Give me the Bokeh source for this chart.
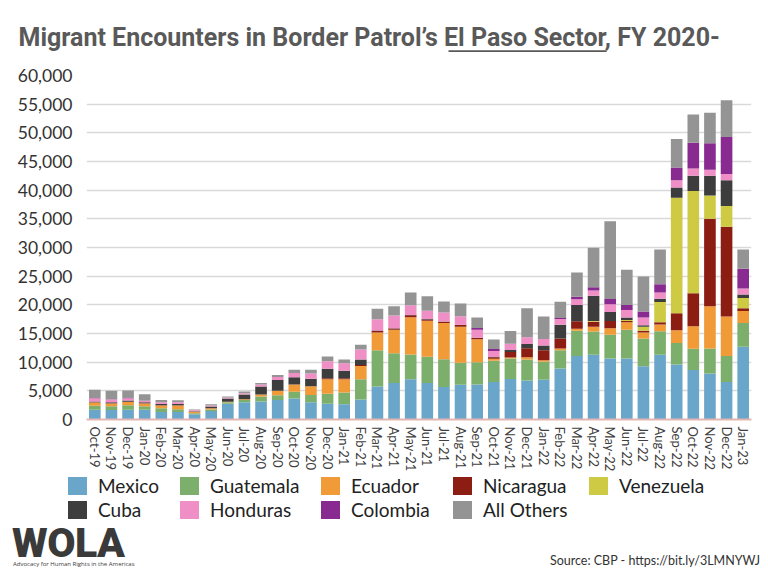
import math
from bokeh.plotting import figure
from bokeh.models import (ColumnDataSource, FactorRange, Range1d, SingleIntervalTicker,
                          NumeralTickFormatter, Label, Div)
from bokeh.layouts import column
from bokeh.embed import file_html
from bokeh.resources import INLINE

months = ["Oct-19", "Nov-19", "Dec-19", "Jan-20", "Feb-20", "Mar-20", "Apr-20", "May-20",
          "Jun-20", "Jul-20", "Aug-20", "Sep-20", "Oct-20", "Nov-20", "Dec-20", "Jan-21",
          "Feb-21", "Mar-21", "Apr-21", "May-21", "Jun-21", "Jul-21", "Aug-21", "Sep-21",
          "Oct-21", "Nov-21", "Dec-21", "Jan-22", "Feb-22", "Mar-22", "Apr-22", "May-22",
          "Jun-22", "Jul-22", "Aug-22", "Sep-22", "Oct-22", "Nov-22", "Dec-22", "Jan-23"]

mexico = [1700, 1650, 1700, 1700, 1300, 1300, 900, 1500, 2750, 3000, 3160, 3390, 3680, 2990,
          2760, 2645, 3510, 5750, 6380, 7015, 6360, 5665, 6070, 6125, 6530, 7050, 6820, 6935,
          8900, 11080, 11310, 10620, 10620, 9290, 11310, 9580, 8655, 8020, 6520, 12690]
guatemala = [700, 650, 800, 600, 650, 500, 200, 250, 250, 400, 870, 860, 1150, 1265, 1725, 2070,
             3510, 6325, 5175, 4310, 4570, 4855, 3815, 3870, 3700, 3585, 3640, 3120, 3180, 4385,
             4040, 4155, 5020, 4850, 4100, 3750, 3690, 4385, 4560, 4155]
ecuador = [550, 500, 550, 500, 500, 650, 250, 200, 100, 150, 340, 750, 1265, 1550, 2530, 2300,
           2300, 3100, 4080, 6500, 6300, 6300, 6300, 3990, 345, 170, 400, 290, 290, 350, 810,
           1155, 1330, 1040, 1155, 2250, 3920, 7330, 6870, 2080]
nicaragua = [50, 50, 50, 50, 50, 50, 0, 0, 0, 0, 0, 0, 0, 0, 170, 170, 170, 250, 230, 345, 230,
             230, 290, 230, 290, 980, 1560, 1735, 1770, 1330, 870, 1270, 230, 290, 400, 2940,
             5770, 15290, 15690, 460]
venezuela = [0, 0, 0, 0, 0, 0, 0, 0, 0, 0, 0, 0, 0, 0, 0, 0, 0, 0, 0, 0, 0, 0, 0, 0, 0, 0, 0,
             0, 0, 0, 170, 0, 170, 690, 3520, 20140, 17830, 4040, 3580, 1790]
cuba = [150, 150, 200, 150, 200, 200, 100, 300, 550, 800, 1380, 1900, 1265, 1320, 1670, 1320,
        980, 100, 50, 50, 50, 50, 50, 50, 50, 345, 750, 810, 2400, 2830, 4385, 1560, 400, 290,
        580, 1790, 2650, 3460, 4500, 635]
honduras = [550, 500, 400, 250, 300, 300, 150, 200, 200, 250, 350, 500, 750, 920, 1320, 1320,
            1725, 1955, 2240, 1725, 1445, 1560, 1500, 1390, 1040, 1100, 1155, 1155, 980, 980,
            920, 1330, 1330, 1330, 1100, 1270, 1270, 1040, 1100, 1040]
colombia = [50, 50, 50, 0, 0, 0, 0, 0, 0, 0, 0, 0, 0, 0, 0, 0, 0, 0, 0, 0, 0, 0, 0, 290, 345,
            0, 0, 0, 170, 460, 580, 920, 865, 1040, 1440, 2250, 4500, 4615, 6460, 3460]
all_others = [1450, 1450, 1300, 1150, 400, 350, 150, 200, 150, 300, 280, 350, 575, 630, 800,
              630, 860, 1840, 1610, 2185, 2540, 1910, 2200, 1850, 1675, 2200, 5085, 3930, 2830,
              4210, 6870, 13560, 6175, 6115, 6060, 4960, 4900, 5310, 6405, 3350]

series_names = ["Mexico", "Guatemala", "Ecuador", "Nicaragua", "Venezuela", "Cuba",
                "Honduras", "Colombia", "All Others"]
series_values = [mexico, guatemala, ecuador, nicaragua, venezuela, cuba, honduras, colombia,
                 all_others]
colors = ["#6aa6c9", "#7caf6b", "#f19b38", "#8c1d12", "#cfca43", "#3d3d3d", "#f08fc5",
          "#882a8f", "#949494"]

title_text = "Migrant Encounters in Border Patrol\u2019s El Paso Sector, FY 2020-"
logo_text = "WOLA"
tagline_text = "Advocacy for Human Rights in the Americas"
source_text = "Source: CBP - https://bit.ly/3LMNYWJ"

FONT = "Lato"
W = 768
PH = 474                             # chart height; the rest is the legend/footer block
FL, FR, FT, FB = 86, 751, 75, 421   # frame edges (page pixels)
YMAX = 60000


def dx(px):
    return (px - FL) / (FR - FL) * len(months)


def dy(py):
    return (FB - py) / (FB - FT) * YMAX


data = dict(month=months)
for n, v in zip(series_names, series_values):
    data[n] = v
source = ColumnDataSource(data)

p = figure(width=W, height=PH, x_range=FactorRange(factors=months, range_padding=0),
           y_range=Range1d(0, YMAX), toolbar_location=None, output_backend="svg",
           min_border_left=FL, min_border_right=W - FR, min_border_top=FT,
           min_border_bottom=PH - FB, title=None)
renderers = p.vbar_stack(series_names, x="month", width=0.7, source=source,
                         fill_color=colors, line_color=None)

p.outline_line_color = None
p.xgrid.grid_line_color = None
p.ygrid.grid_line_color = "#d9d9d9"
p.ygrid.grid_line_width = 1.5
p.yaxis.ticker = SingleIntervalTicker(interval=5000)
p.yaxis.formatter = NumeralTickFormatter(format="0,0")
p.yaxis.axis_line_color = None
p.yaxis.major_tick_line_color = None
p.yaxis.minor_tick_line_color = None
p.yaxis.major_tick_out = 0
p.yaxis.minor_tick_out = 0
p.yaxis.major_label_text_font = FONT
p.yaxis.major_label_text_font_size = "17.5px"
p.yaxis.major_label_text_color = "#333333"
p.yaxis.major_label_standoff = 14
p.xaxis.axis_line_color = "#e3b5b2"
p.xaxis.axis_line_width = 2
p.xaxis.major_tick_line_color = None
p.xaxis.major_tick_out = 0
p.xaxis.major_label_orientation = -math.pi / 2
p.xaxis.major_label_text_font = FONT
p.xaxis.major_label_text_font_size = "13px"
p.xaxis.major_label_text_color = "#404040"
p.xaxis.major_label_standoff = 7

p.add_layout(Label(x=dx(18), y=dy(37), text=title_text, text_font="Roboto",
                   text_font_style="bold", text_font_size="25px", text_color="#595959",
                   text_baseline="alphabetic"), "above")
# underline under "El Paso Sector": background box behind blank text
ul_w = 158
p.add_layout(Label(x=dx(448), y=dy(50.5), text="\u00a0" * int(ul_w / (0.2476 * 1.5)),
                   text_font="Roboto", text_font_size="1.5px", text_baseline="middle",
                   background_fill_color="#595959", background_fill_alpha=1), "above")

# legend + footer block (HTML)
col_x = [68, 180, 321, 453, 589]
row_y = [3, 27]
parts = []
for i, (name, c) in enumerate(zip(series_names, colors)):
    r, k = divmod(i, 5)
    parts.append(
        f'<div style="position:absolute;left:{col_x[k]}px;top:{row_y[r]}px;height:18px;'
        f'display:flex;align-items:center;white-space:nowrap;">'
        f'<span style="display:inline-block;width:19px;height:18px;background:{c};"></span>'
        f'<span style="margin-left:11px;font-size:19px;line-height:18px;color:#222222;">'
        f'{name}</span></div>')
parts.append(f'<div style="position:absolute;left:12px;top:49px;font-family:Roboto;'
             f'font-weight:900;font-size:41px;line-height:41px;color:#3a3a3a;'
             f'letter-spacing:-0.5px;">{logo_text}</div>')
parts.append(f'<div style="position:absolute;left:13px;top:87px;font-family:\'Open Sans\';'
             f'font-size:6px;line-height:6px;color:#3a3a3a;white-space:nowrap;">{tagline_text}</div>')
parts.append(f'<div style="position:absolute;right:8px;top:81px;font-size:12.5px;'
             f'line-height:12.5px;color:#333333;white-space:nowrap;">{source_text}</div>')
html = (f'<div style="position:relative;width:{W}px;height:{576 - PH}px;font-family:Lato;">'
        + "".join(parts) + '</div>')
footer = Div(text=html, width=W, height=576 - PH, margin=(0, 0, 0, 0))

layout = column(p, footer, spacing=0)
open("out.html", "w").write(file_html(layout, INLINE))
